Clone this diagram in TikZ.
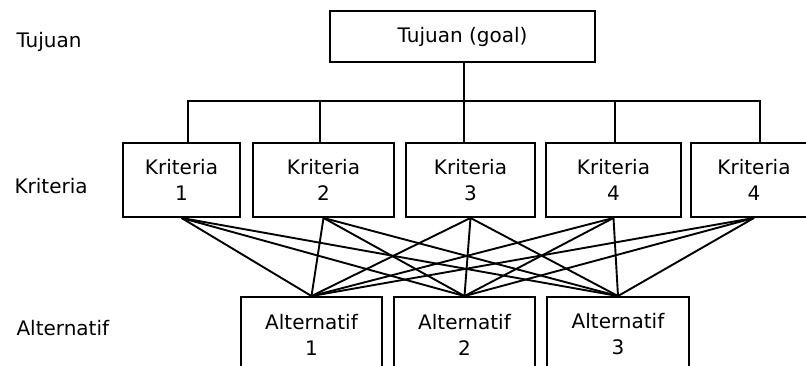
\documentclass[tikz,border=0pt]{standalone}
\usepackage{fontspec}
\setmainfont{DejaVu Sans}

\begin{document}
\begin{tikzpicture}[x=1pt,y=-1pt]

  % Style des boites et des liens
  \tikzstyle{boite} = [draw, line width=1.9, align=center, inner sep=0pt, font=\fontsize{20}{26}\selectfont]
  \tikzstyle{lien} = [line width=1.9]
  \tikzstyle{niveau} = [anchor=west, font=\fontsize{20}{26}\selectfont]

  \useasboundingbox (0,0) rectangle (806,366);
  \clip (0,0) rectangle (806,366);

  % Niveaux
  \node[niveau] (lbltujuan) at (13,42) {Tujuan};
  \node[niveau] (lblkriteria) at (11,186) {Kriteria};
  \node[niveau] (lblalternatif) at (13,328) {Alternatif};

  % Liste des boxes
  \node[boite, minimum width=265, minimum height=51] (goal) at (462.5,36.5) {Tujuan (goal)};

  \node[boite, minimum width=117, minimum height=74] (k1) at (181.5,180) {Kriteria\\1};
  \node[boite, minimum width=141, minimum height=74] (k2) at (323.5,180) {Kriteria\\2};
  \node[boite, minimum width=129, minimum height=74] (k3) at (470.5,180) {Kriteria\\3};
  \node[boite, minimum width=135, minimum height=74] (k4) at (613.5,180) {Kriteria\\4};
  \node[boite, minimum width=126, minimum height=74] (k5) at (754,180) {Kriteria\\4};

  \node[boite, minimum width=141, minimum height=75] (a1) at (311.5,334.5) {Alternatif\\1};
  \node[boite, minimum width=141, minimum height=75] (a2) at (464.5,334.5) {Alternatif\\2};
  \node[boite, minimum width=142, minimum height=75] (a3) at (618,334.5) {Alternatif\\3};

  % Tujuan -> kriteria
  \draw[lien] ([xshift=6.5]k1.north) -- ++(0,-41) coordinate (bus) -| ([xshift=6]k5.north);
  \draw[lien] ([xshift=1.5]goal.south) -- ([xshift=1.5]goal.south |- bus);
  \foreach \k/\dx in {k2/-3.5, k3/-6.5, k4/1.5}
    \draw[lien] ([xshift=\dx]\k.north) -- ([xshift=\dx]\k.north |- bus);

  % Kriteria -> alternatif
  \foreach \k in {k1,k2,k3,k4,k5}
    \foreach \a in {a1,a2,a3}
      \draw[lien] (\k.south) -- (\a.north);

\end{tikzpicture}
\end{document}
